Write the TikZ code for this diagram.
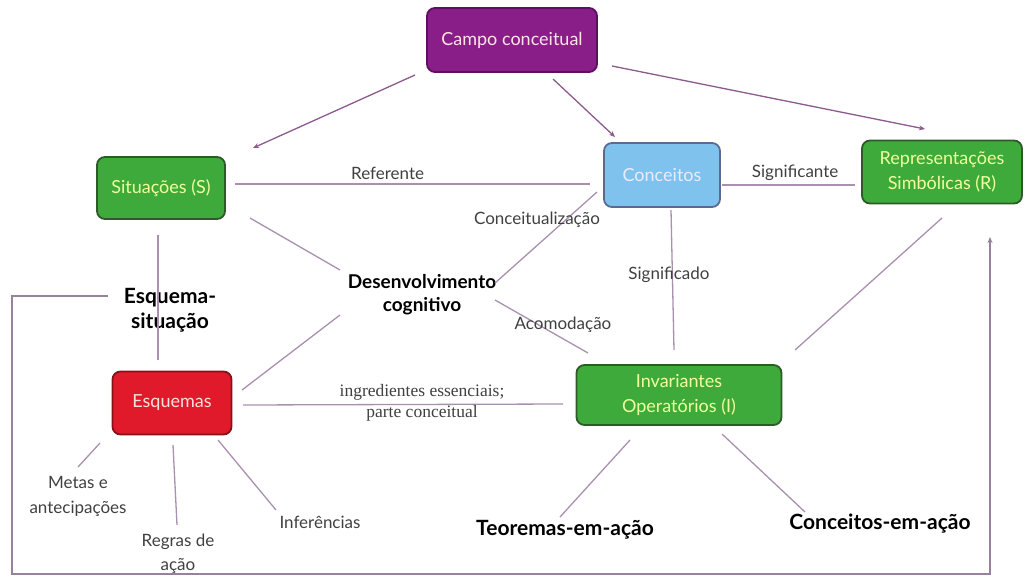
\documentclass[tikz,border=0pt]{standalone}
\usepackage{fontspec}
\setmainfont{Lato}
\newfontfamily\serifx{Liberation Serif}
\usetikzlibrary{arrows.meta}
\definecolor{purp}{HTML}{8A1E88}
\definecolor{purpd}{HTML}{5E1060}
\definecolor{grn}{HTML}{3EAA3C}
\definecolor{grnd}{HTML}{2E5A2A}
\definecolor{blu}{HTML}{80C2EE}
\definecolor{blud}{HTML}{5A6A90}
\definecolor{rd}{HTML}{E01A2A}
\definecolor{rdd}{HTML}{8A1018}
\definecolor{ln}{HTML}{A890AE}
\definecolor{arr}{HTML}{8C5A8E}
\definecolor{lbl}{HTML}{404040}
\tikzset{
  box/.style={draw, line width=1.8pt, rounded corners=8pt, align=center, inner sep=0pt, font=\fontsize{18}{25}\selectfont},
  conn/.style={draw=ln, line width=1.3pt},
  arrw/.style={draw=arr, line width=1.3pt, -{Stealth[length=6pt,width=5pt]}},
  lab/.style={text=lbl, font=\fontsize{17}{25}\selectfont, align=center, inner sep=1pt},
  blab/.style={text=black, font=\bfseries\fontsize{21}{25}\selectfont, align=center, inner sep=1pt},
}
\begin{document}
\begin{tikzpicture}[x=1pt,y=-1pt]
\useasboundingbox (0,0) rectangle (1025,576);
% boxes
\node[box, fill=purp, draw=purpd, text=pink!40, minimum width=170pt, minimum height=64pt] (campo) at (512,40) {Campo conceitual};
\node[box, fill=grn, draw=grnd, text=green!15!yellow!40, minimum width=128pt, minimum height=62pt] (sit) at (161,188) {Situações (S)};
\node[box, fill=blu, draw=blud, text=white!92!blue, minimum width=116pt, minimum height=64pt] (conc) at (662,175) {Conceitos};
\node[box, fill=grn, draw=grnd, text=green!15!yellow!40, minimum width=160pt, minimum height=63pt] (rep) at (942,172) {Representações\\Simbólicas (R)};
\node[box, fill=rd, draw=rdd, text=pink!50, minimum width=119pt, minimum height=63pt] (esq) at (172,403) {Esquemas};
\node[box, fill=grn, draw=grnd, text=green!15!yellow!40, minimum width=205pt, minimum height=60pt] (inv) at (679,395) {Invariantes\\Operatórios (I)};
% text nodes
\node[blab, font=\bfseries\fontsize{19}{23}\selectfont] (des) at (422,295) {Desenvolvimento\\cognitivo};
\node[blab] (esit) at (170,310) {Esquema-\\situação};
\node[lab] (metas) at (78,496) {Metas e\\antecipações};
\node[lab, font=\fontsize{17}{24}\selectfont] (regras) at (178,554) {Regras de\\ação};
\node[lab] (inf) at (320,522) {Inferências};
\node[blab] (teo) at (565,530) {Teoremas-em-ação};
\node[blab] (cea) at (880,524) {Conceitos-em-ação};
% connectors
\coordinate (s1) at (235,184);
\coordinate (c1) at (590,184);
\draw[conn] (s1) -- node[lab, above=3pt, pos=0.43] {Referente} (c1);
\coordinate (c2) at (722,185);
\coordinate (r2) at (855,185);
\draw[conn] (c2) -- node[lab, above=3pt, pos=0.55] {Significante} (r2);
\coordinate (s3) at (250,218);
\coordinate (d3) at (340,270);
\draw[conn] (s3) -- (d3);
\coordinate (d4) at (495,283);
\coordinate (c4) at (597,192);
\draw[conn] (d4) -- (c4);
\node[lab] (lconc) at (537,220) {Conceitualização};
\coordinate (c5) at (671,210);
\coordinate (i5) at (674,350);
\draw[conn] (c5) -- (i5);
\node[lab] (lsig) at (669,275) {Significado};
\coordinate (d6) at (495,300);
\coordinate (i6) at (588,353);
\draw[conn] (d6) -- (i6);
\node[lab] (lacom) at (563,325) {Acomodação};
\coordinate (e7) at (242,390);
\coordinate (d7) at (340,315);
\draw[conn] (e7) -- (d7);
\coordinate (e8) at (243,405);
\coordinate (i8) at (563,404);
\draw[conn] (e8) -- (i8);
\node[text=lbl, font=\serifx\fontsize{17.5}{21}\selectfont, align=center] (ling) at (422,403) {ingredientes essenciais;\\parte conceitual};
\coordinate (r9) at (942,218);
\coordinate (i9) at (795,350);
\draw[conn] (r9) -- (i9);
\coordinate (s10) at (158,235);
\coordinate (e10) at (158,360);
\draw[conn] (s10) -- (e10);
\draw[conn] (100,443) -- (78,467);
\draw[conn] (173,445) -- (177,525);
\draw[conn] (218,440) -- (276,510);
\draw[conn] (630,440) -- (560,517);
\draw[conn] (722,434) -- (805,512);
% arrows from campo
\coordinate (a1) at (415,75);
\coordinate (a2) at (553,79);
\coordinate (a3) at (612,66);
\draw[arrw] (a1) -- (253,148);
\draw[arrw] (a2) -- (615,137);
\draw[arrw] (a3) -- (925,129);
% feedback loop
\coordinate (f0) at (108,296);
\coordinate (f1) at (990,237);
\draw[arrw, draw=ln!90!black] (f0) -- (12,296) -- (12,574) -- (990,574) -- (f1);
\end{tikzpicture}
\end{document}
